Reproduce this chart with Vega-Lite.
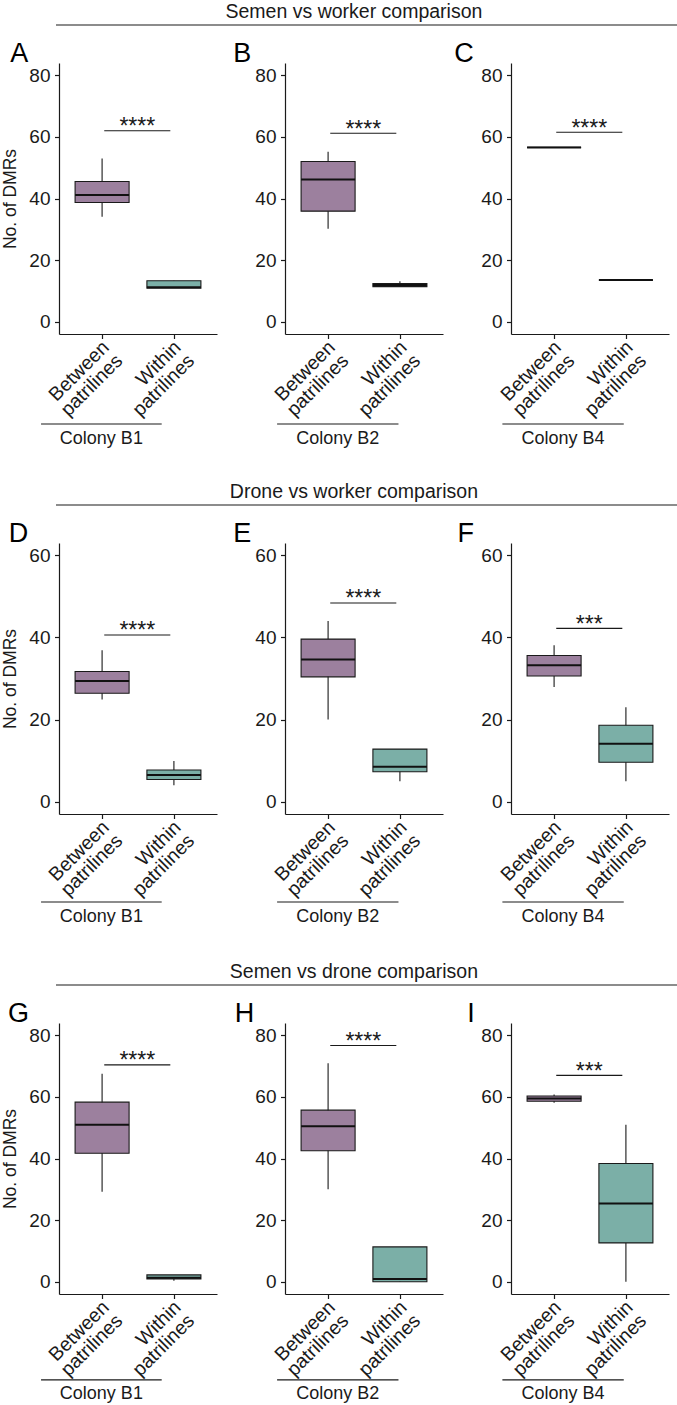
{
"$schema": "https://vega.github.io/schema/vega-lite/v6.json",
"background": "white",
"padding": {"left": 1, "top": 2, "right": 0, "bottom": 0},
"autosize": {"type": "pad"},
"datasets": {
"boxes": [
{"panel":"A","group":"Between patrilines","min":34.1,"q1":38.7,"median":41.1,"q3":45.5,"max":53.0},
{"panel":"A","group":"Within patrilines","min":10.9,"q1":10.9,"median":11.2,"q3":13.3,"max":13.3},
{"panel":"B","group":"Between patrilines","min":30.2,"q1":35.9,"median":46.2,"q3":52.0,"max":55.2},
{"panel":"B","group":"Within patrilines","min":11.3,"q1":11.4,"median":11.9,"q3":12.4,"max":13.1},
{"panel":"C","group":"Between patrilines","min":56.6,"q1":56.6,"median":56.6,"q3":56.6,"max":56.6},
{"panel":"C","group":"Within patrilines","min":13.5,"q1":13.5,"median":13.5,"q3":13.5,"max":13.5},
{"panel":"D","group":"Between patrilines","min":24.9,"q1":26.4,"median":29.4,"q3":31.7,"max":36.9},
{"panel":"D","group":"Within patrilines","min":4.0,"q1":5.4,"median":6.5,"q3":7.7,"max":9.9},
{"panel":"E","group":"Between patrilines","min":20.0,"q1":30.4,"median":34.6,"q3":39.6,"max":44.0},
{"panel":"E","group":"Within patrilines","min":5.0,"q1":7.3,"median":8.5,"q3":12.8,"max":12.8},
{"panel":"F","group":"Between patrilines","min":27.9,"q1":30.6,"median":33.2,"q3":35.6,"max":38.1},
{"panel":"F","group":"Within patrilines","min":5.0,"q1":9.6,"median":14.1,"q3":18.6,"max":23.0},
{"panel":"G","group":"Between patrilines","min":29.2,"q1":41.7,"median":51.0,"q3":58.3,"max":67.5},
{"panel":"G","group":"Within patrilines","min":0.3,"q1":0.9,"median":1.3,"q3":2.2,"max":2.2},
{"panel":"H","group":"Between patrilines","min":30.0,"q1":42.5,"median":50.5,"q3":55.7,"max":70.9},
{"panel":"H","group":"Within patrilines","min":0.0,"q1":0.0,"median":0.9,"q3":11.3,"max":11.3},
{"panel":"I","group":"Between patrilines","min":58.1,"q1":58.6,"median":59.5,"q3":60.3,"max":60.8},
{"panel":"I","group":"Within patrilines","min":0.0,"q1":12.6,"median":25.4,"q3":38.4,"max":51.0}
],
"panels": [
{"panel":"A","comparison":"Semen vs worker comparison","colony":"Colony B1","signif":"****"},
{"panel":"B","comparison":"Semen vs worker comparison","colony":"Colony B2","signif":"****"},
{"panel":"C","comparison":"Semen vs worker comparison","colony":"Colony B4","signif":"****"},
{"panel":"D","comparison":"Drone vs worker comparison","colony":"Colony B1","signif":"****"},
{"panel":"E","comparison":"Drone vs worker comparison","colony":"Colony B2","signif":"****"},
{"panel":"F","comparison":"Drone vs worker comparison","colony":"Colony B4","signif":"***"},
{"panel":"G","comparison":"Semen vs drone comparison","colony":"Colony B1","signif":"****"},
{"panel":"H","comparison":"Semen vs drone comparison","colony":"Colony B2","signif":"****"},
{"panel":"I","comparison":"Semen vs drone comparison","colony":"Colony B4","signif":"***"}
]
},
"columns": 3,
"spacing": {"row": 209, "column": 68},
"bounds": "flush",
"concat": [
{"width":158,"height":271,"resolve":{"scale":{"x":"independent"}},"layer":[
 {"data":{"name":"boxes"},"transform":[{"filter":"datum.panel === 'A'"}],
  "encoding":{"x":{"field":"group","type":"nominal","sort":["Between patrilines","Within patrilines"],"scale":{"type":"point","padding":0.6},"axis":{"title":null,"labelExpr":"split(datum.label, ' ')"}}},
  "layer":[
   {"mark":{"type":"rule","color":"#1a1a1a","strokeWidth":1.1},"encoding":{"y":{"field":"min","type":"quantitative","scale":{"domain":[-4,84],"nice":false,"zero":false},"axis":{"values":[0,20,40,60,80],"title":"No. of DMRs"}},"y2":{"field":"max"}}},
   {"mark":{"type":"bar","width":54,"stroke":"#1a1a1a","strokeWidth":1.1},"encoding":{"y":{"field":"q1","type":"quantitative","scale":{"domain":[-4,84],"nice":false,"zero":false},"axis":{"values":[0,20,40,60,80],"title":"No. of DMRs"}},"y2":{"field":"q3"},"fill":{"field":"group","type":"nominal","scale":{"domain":["Between patrilines","Within patrilines"],"range":["#9c809e","#7bafa7"]},"legend":null}}},
   {"mark":{"type":"tick","orient":"horizontal","size":54,"thickness":2,"color":"#111111","opacity":1},"encoding":{"y":{"field":"median","type":"quantitative","scale":{"domain":[-4,84],"nice":false,"zero":false},"axis":{"values":[0,20,40,60,80],"title":"No. of DMRs"}}}}
  ]},
 {"data":{"name":"panels"},"transform":[{"filter":"datum.panel === 'A'"}],
  "layer":[
   {"mark":{"type":"rule","color":"#1a1a1a","strokeWidth":1.1},"encoding":{"x":{"datum":1.03,"type":"quantitative","scale":{"domain":[0.4,2.6],"nice":false,"zero":false},"axis":null},"x2":{"datum":1.95},"y":{"datum":62,"type":"quantitative","scale":{"domain":[-4,84],"nice":false,"zero":false},"axis":{"values":[0,20,40,60,80],"title":"No. of DMRs"}}}},
   {"mark":{"type":"text","fontSize":23,"baseline":"alphabetic","dy":3.5,"color":"#1a1a1a"},"encoding":{"x":{"datum":1.49,"type":"quantitative","scale":{"domain":[0.4,2.6],"nice":false,"zero":false},"axis":null},"y":{"datum":62,"type":"quantitative","scale":{"domain":[-4,84],"nice":false,"zero":false},"axis":{"values":[0,20,40,60,80],"title":"No. of DMRs"}},"text":{"field":"signif"}}},
   {"mark":{"type":"rule","color":"#1a1a1a","strokeWidth":1.1},"encoding":{"x":{"datum":0.15,"type":"quantitative","scale":{"domain":[0.4,2.6],"nice":false,"zero":false},"axis":null},"x2":{"datum":1.83},"y":{"datum":-33.23,"type":"quantitative","scale":{"domain":[-4,84],"nice":false,"zero":false},"axis":{"values":[0,20,40,60,80],"title":"No. of DMRs"}}}},
   {"mark":{"type":"text","fontSize":18,"baseline":"middle","color":"#1a1a1a"},"encoding":{"x":{"datum":0.99,"type":"quantitative","scale":{"domain":[0.4,2.6],"nice":false,"zero":false},"axis":null},"y":{"datum":-38.1,"type":"quantitative","scale":{"domain":[-4,84],"nice":false,"zero":false},"axis":{"values":[0,20,40,60,80],"title":"No. of DMRs"}},"text":{"field":"colony"}}},
   {"mark":{"type":"text","fontSize":27,"align":"left","baseline":"alphabetic","color":"#000000"},"encoding":{"x":{"datum":-0.28,"type":"quantitative","scale":{"domain":[0.4,2.6],"nice":false,"zero":false},"axis":null},"y":{"datum":84.3,"type":"quantitative","scale":{"domain":[-4,84],"nice":false,"zero":false},"axis":{"values":[0,20,40,60,80],"title":"No. of DMRs"}},"text":{"field":"panel"}}},
   {"mark":{"type":"rule","color":"#1a1a1a","strokeWidth":1.1},"encoding":{"x":{"datum":0.358,"type":"quantitative","scale":{"domain":[0.4,2.6],"nice":false,"zero":false},"axis":null},"x2":{"datum":9.02},"y":{"datum":96.34,"type":"quantitative","scale":{"domain":[-4,84],"nice":false,"zero":false},"axis":{"values":[0,20,40,60,80],"title":"No. of DMRs"}}}}
  ]}
]},
{"width":158,"height":271,"resolve":{"scale":{"x":"independent"}},"layer":[
 {"data":{"name":"boxes"},"transform":[{"filter":"datum.panel === 'B'"}],
  "encoding":{"x":{"field":"group","type":"nominal","sort":["Between patrilines","Within patrilines"],"scale":{"type":"point","padding":0.6},"axis":{"title":null,"labelExpr":"split(datum.label, ' ')"}}},
  "layer":[
   {"mark":{"type":"rule","color":"#1a1a1a","strokeWidth":1.1},"encoding":{"y":{"field":"min","type":"quantitative","scale":{"domain":[-4,84],"nice":false,"zero":false},"axis":{"values":[0,20,40,60,80],"title":null}},"y2":{"field":"max"}}},
   {"mark":{"type":"bar","width":54,"stroke":"#1a1a1a","strokeWidth":1.1},"encoding":{"y":{"field":"q1","type":"quantitative","scale":{"domain":[-4,84],"nice":false,"zero":false},"axis":{"values":[0,20,40,60,80],"title":null}},"y2":{"field":"q3"},"fill":{"field":"group","type":"nominal","scale":{"domain":["Between patrilines","Within patrilines"],"range":["#9c809e","#7bafa7"]},"legend":null}}},
   {"mark":{"type":"tick","orient":"horizontal","size":54,"thickness":2,"color":"#111111","opacity":1},"encoding":{"y":{"field":"median","type":"quantitative","scale":{"domain":[-4,84],"nice":false,"zero":false},"axis":{"values":[0,20,40,60,80],"title":null}}}}
  ]},
 {"data":{"name":"panels"},"transform":[{"filter":"datum.panel === 'B'"}],
  "layer":[
   {"mark":{"type":"rule","color":"#1a1a1a","strokeWidth":1.1},"encoding":{"x":{"datum":1.03,"type":"quantitative","scale":{"domain":[0.4,2.6],"nice":false,"zero":false},"axis":null},"x2":{"datum":1.95},"y":{"datum":61.2,"type":"quantitative","scale":{"domain":[-4,84],"nice":false,"zero":false},"axis":{"values":[0,20,40,60,80],"title":null}}}},
   {"mark":{"type":"text","fontSize":23,"baseline":"alphabetic","dy":3.5,"color":"#1a1a1a"},"encoding":{"x":{"datum":1.49,"type":"quantitative","scale":{"domain":[0.4,2.6],"nice":false,"zero":false},"axis":null},"y":{"datum":61.2,"type":"quantitative","scale":{"domain":[-4,84],"nice":false,"zero":false},"axis":{"values":[0,20,40,60,80],"title":null}},"text":{"field":"signif"}}},
   {"mark":{"type":"rule","color":"#1a1a1a","strokeWidth":1.1},"encoding":{"x":{"datum":0.29,"type":"quantitative","scale":{"domain":[0.4,2.6],"nice":false,"zero":false},"axis":null},"x2":{"datum":1.98},"y":{"datum":-33.23,"type":"quantitative","scale":{"domain":[-4,84],"nice":false,"zero":false},"axis":{"values":[0,20,40,60,80],"title":null}}}},
   {"mark":{"type":"text","fontSize":18,"baseline":"middle","color":"#1a1a1a"},"encoding":{"x":{"datum":1.135,"type":"quantitative","scale":{"domain":[0.4,2.6],"nice":false,"zero":false},"axis":null},"y":{"datum":-38.1,"type":"quantitative","scale":{"domain":[-4,84],"nice":false,"zero":false},"axis":{"values":[0,20,40,60,80],"title":null}},"text":{"field":"colony"}}},
   {"mark":{"type":"text","fontSize":27,"align":"left","baseline":"alphabetic","color":"#000000"},"encoding":{"x":{"datum":-0.32,"type":"quantitative","scale":{"domain":[0.4,2.6],"nice":false,"zero":false},"axis":null},"y":{"datum":84.3,"type":"quantitative","scale":{"domain":[-4,84],"nice":false,"zero":false},"axis":{"values":[0,20,40,60,80],"title":null}},"text":{"field":"panel"}}},
   {"mark":{"type":"text","fontSize":19.5,"align":"center","baseline":"middle","color":"#1a1a1a"},"encoding":{"x":{"datum":1.36,"type":"quantitative","scale":{"domain":[0.4,2.6],"nice":false,"zero":false},"axis":null},"y":{"datum":100.56,"type":"quantitative","scale":{"domain":[-4,84],"nice":false,"zero":false},"axis":{"values":[0,20,40,60,80],"title":null}},"text":{"field":"comparison"}}}
  ]}
]},
{"width":158,"height":271,"resolve":{"scale":{"x":"independent"}},"layer":[
 {"data":{"name":"boxes"},"transform":[{"filter":"datum.panel === 'C'"}],
  "encoding":{"x":{"field":"group","type":"nominal","sort":["Between patrilines","Within patrilines"],"scale":{"type":"point","padding":0.6},"axis":{"title":null,"labelExpr":"split(datum.label, ' ')"}}},
  "layer":[
   {"mark":{"type":"rule","color":"#1a1a1a","strokeWidth":1.1},"encoding":{"y":{"field":"min","type":"quantitative","scale":{"domain":[-4,84],"nice":false,"zero":false},"axis":{"values":[0,20,40,60,80],"title":null}},"y2":{"field":"max"}}},
   {"mark":{"type":"bar","width":54,"stroke":"#1a1a1a","strokeWidth":1.1},"encoding":{"y":{"field":"q1","type":"quantitative","scale":{"domain":[-4,84],"nice":false,"zero":false},"axis":{"values":[0,20,40,60,80],"title":null}},"y2":{"field":"q3"},"fill":{"field":"group","type":"nominal","scale":{"domain":["Between patrilines","Within patrilines"],"range":["#9c809e","#7bafa7"]},"legend":null}}},
   {"mark":{"type":"tick","orient":"horizontal","size":54,"thickness":2,"color":"#111111","opacity":1},"encoding":{"y":{"field":"median","type":"quantitative","scale":{"domain":[-4,84],"nice":false,"zero":false},"axis":{"values":[0,20,40,60,80],"title":null}}}}
  ]},
 {"data":{"name":"panels"},"transform":[{"filter":"datum.panel === 'C'"}],
  "layer":[
   {"mark":{"type":"rule","color":"#1a1a1a","strokeWidth":1.1},"encoding":{"x":{"datum":1.03,"type":"quantitative","scale":{"domain":[0.4,2.6],"nice":false,"zero":false},"axis":null},"x2":{"datum":1.95},"y":{"datum":61.5,"type":"quantitative","scale":{"domain":[-4,84],"nice":false,"zero":false},"axis":{"values":[0,20,40,60,80],"title":null}}}},
   {"mark":{"type":"text","fontSize":23,"baseline":"alphabetic","dy":3.5,"color":"#1a1a1a"},"encoding":{"x":{"datum":1.49,"type":"quantitative","scale":{"domain":[0.4,2.6],"nice":false,"zero":false},"axis":null},"y":{"datum":61.5,"type":"quantitative","scale":{"domain":[-4,84],"nice":false,"zero":false},"axis":{"values":[0,20,40,60,80],"title":null}},"text":{"field":"signif"}}},
   {"mark":{"type":"rule","color":"#1a1a1a","strokeWidth":1.1},"encoding":{"x":{"datum":0.28,"type":"quantitative","scale":{"domain":[0.4,2.6],"nice":false,"zero":false},"axis":null},"x2":{"datum":1.97},"y":{"datum":-33.23,"type":"quantitative","scale":{"domain":[-4,84],"nice":false,"zero":false},"axis":{"values":[0,20,40,60,80],"title":null}}}},
   {"mark":{"type":"text","fontSize":18,"baseline":"middle","color":"#1a1a1a"},"encoding":{"x":{"datum":1.125,"type":"quantitative","scale":{"domain":[0.4,2.6],"nice":false,"zero":false},"axis":null},"y":{"datum":-38.1,"type":"quantitative","scale":{"domain":[-4,84],"nice":false,"zero":false},"axis":{"values":[0,20,40,60,80],"title":null}},"text":{"field":"colony"}}},
   {"mark":{"type":"text","fontSize":27,"align":"left","baseline":"alphabetic","color":"#000000"},"encoding":{"x":{"datum":-0.39,"type":"quantitative","scale":{"domain":[0.4,2.6],"nice":false,"zero":false},"axis":null},"y":{"datum":84.3,"type":"quantitative","scale":{"domain":[-4,84],"nice":false,"zero":false},"axis":{"values":[0,20,40,60,80],"title":null}},"text":{"field":"panel"}}}
  ]}
]},
{"width":158,"height":271,"resolve":{"scale":{"x":"independent"}},"layer":[
 {"data":{"name":"boxes"},"transform":[{"filter":"datum.panel === 'D'"}],
  "encoding":{"x":{"field":"group","type":"nominal","sort":["Between patrilines","Within patrilines"],"scale":{"type":"point","padding":0.6},"axis":{"title":null,"labelExpr":"split(datum.label, ' ')"}}},
  "layer":[
   {"mark":{"type":"rule","color":"#1a1a1a","strokeWidth":1.1},"encoding":{"y":{"field":"min","type":"quantitative","scale":{"domain":[-3,63],"nice":false,"zero":false},"axis":{"values":[0,20,40,60],"title":"No. of DMRs"}},"y2":{"field":"max"}}},
   {"mark":{"type":"bar","width":54,"stroke":"#1a1a1a","strokeWidth":1.1},"encoding":{"y":{"field":"q1","type":"quantitative","scale":{"domain":[-3,63],"nice":false,"zero":false},"axis":{"values":[0,20,40,60],"title":"No. of DMRs"}},"y2":{"field":"q3"},"fill":{"field":"group","type":"nominal","scale":{"domain":["Between patrilines","Within patrilines"],"range":["#9c809e","#7bafa7"]},"legend":null}}},
   {"mark":{"type":"tick","orient":"horizontal","size":54,"thickness":2,"color":"#111111","opacity":1},"encoding":{"y":{"field":"median","type":"quantitative","scale":{"domain":[-3,63],"nice":false,"zero":false},"axis":{"values":[0,20,40,60],"title":"No. of DMRs"}}}}
  ]},
 {"data":{"name":"panels"},"transform":[{"filter":"datum.panel === 'D'"}],
  "layer":[
   {"mark":{"type":"rule","color":"#1a1a1a","strokeWidth":1.1},"encoding":{"x":{"datum":1.03,"type":"quantitative","scale":{"domain":[0.4,2.6],"nice":false,"zero":false},"axis":null},"x2":{"datum":1.95},"y":{"datum":40.6,"type":"quantitative","scale":{"domain":[-3,63],"nice":false,"zero":false},"axis":{"values":[0,20,40,60],"title":"No. of DMRs"}}}},
   {"mark":{"type":"text","fontSize":23,"baseline":"alphabetic","dy":3.5,"color":"#1a1a1a"},"encoding":{"x":{"datum":1.49,"type":"quantitative","scale":{"domain":[0.4,2.6],"nice":false,"zero":false},"axis":null},"y":{"datum":40.6,"type":"quantitative","scale":{"domain":[-3,63],"nice":false,"zero":false},"axis":{"values":[0,20,40,60],"title":"No. of DMRs"}},"text":{"field":"signif"}}},
   {"mark":{"type":"rule","color":"#1a1a1a","strokeWidth":1.1},"encoding":{"x":{"datum":0.15,"type":"quantitative","scale":{"domain":[0.4,2.6],"nice":false,"zero":false},"axis":null},"x2":{"datum":1.83},"y":{"datum":-24.43,"type":"quantitative","scale":{"domain":[-3,63],"nice":false,"zero":false},"axis":{"values":[0,20,40,60],"title":"No. of DMRs"}}}},
   {"mark":{"type":"text","fontSize":18,"baseline":"middle","color":"#1a1a1a"},"encoding":{"x":{"datum":0.99,"type":"quantitative","scale":{"domain":[0.4,2.6],"nice":false,"zero":false},"axis":null},"y":{"datum":-28.09,"type":"quantitative","scale":{"domain":[-3,63],"nice":false,"zero":false},"axis":{"values":[0,20,40,60],"title":"No. of DMRs"}},"text":{"field":"colony"}}},
   {"mark":{"type":"text","fontSize":27,"align":"left","baseline":"alphabetic","color":"#000000"},"encoding":{"x":{"datum":-0.30,"type":"quantitative","scale":{"domain":[0.4,2.6],"nice":false,"zero":false},"axis":null},"y":{"datum":63.25,"type":"quantitative","scale":{"domain":[-3,63],"nice":false,"zero":false},"axis":{"values":[0,20,40,60],"title":"No. of DMRs"}},"text":{"field":"panel"}}},
   {"mark":{"type":"rule","color":"#1a1a1a","strokeWidth":1.1},"encoding":{"x":{"datum":0.358,"type":"quantitative","scale":{"domain":[0.4,2.6],"nice":false,"zero":false},"axis":null},"x2":{"datum":9.02},"y":{"datum":72.25,"type":"quantitative","scale":{"domain":[-3,63],"nice":false,"zero":false},"axis":{"values":[0,20,40,60],"title":"No. of DMRs"}}}}
  ]}
]},
{"width":158,"height":271,"resolve":{"scale":{"x":"independent"}},"layer":[
 {"data":{"name":"boxes"},"transform":[{"filter":"datum.panel === 'E'"}],
  "encoding":{"x":{"field":"group","type":"nominal","sort":["Between patrilines","Within patrilines"],"scale":{"type":"point","padding":0.6},"axis":{"title":null,"labelExpr":"split(datum.label, ' ')"}}},
  "layer":[
   {"mark":{"type":"rule","color":"#1a1a1a","strokeWidth":1.1},"encoding":{"y":{"field":"min","type":"quantitative","scale":{"domain":[-3,63],"nice":false,"zero":false},"axis":{"values":[0,20,40,60],"title":null}},"y2":{"field":"max"}}},
   {"mark":{"type":"bar","width":54,"stroke":"#1a1a1a","strokeWidth":1.1},"encoding":{"y":{"field":"q1","type":"quantitative","scale":{"domain":[-3,63],"nice":false,"zero":false},"axis":{"values":[0,20,40,60],"title":null}},"y2":{"field":"q3"},"fill":{"field":"group","type":"nominal","scale":{"domain":["Between patrilines","Within patrilines"],"range":["#9c809e","#7bafa7"]},"legend":null}}},
   {"mark":{"type":"tick","orient":"horizontal","size":54,"thickness":2,"color":"#111111","opacity":1},"encoding":{"y":{"field":"median","type":"quantitative","scale":{"domain":[-3,63],"nice":false,"zero":false},"axis":{"values":[0,20,40,60],"title":null}}}}
  ]},
 {"data":{"name":"panels"},"transform":[{"filter":"datum.panel === 'E'"}],
  "layer":[
   {"mark":{"type":"rule","color":"#1a1a1a","strokeWidth":1.1},"encoding":{"x":{"datum":1.03,"type":"quantitative","scale":{"domain":[0.4,2.6],"nice":false,"zero":false},"axis":null},"x2":{"datum":1.95},"y":{"datum":48.4,"type":"quantitative","scale":{"domain":[-3,63],"nice":false,"zero":false},"axis":{"values":[0,20,40,60],"title":null}}}},
   {"mark":{"type":"text","fontSize":23,"baseline":"alphabetic","dy":3.5,"color":"#1a1a1a"},"encoding":{"x":{"datum":1.49,"type":"quantitative","scale":{"domain":[0.4,2.6],"nice":false,"zero":false},"axis":null},"y":{"datum":48.4,"type":"quantitative","scale":{"domain":[-3,63],"nice":false,"zero":false},"axis":{"values":[0,20,40,60],"title":null}},"text":{"field":"signif"}}},
   {"mark":{"type":"rule","color":"#1a1a1a","strokeWidth":1.1},"encoding":{"x":{"datum":0.29,"type":"quantitative","scale":{"domain":[0.4,2.6],"nice":false,"zero":false},"axis":null},"x2":{"datum":1.98},"y":{"datum":-24.43,"type":"quantitative","scale":{"domain":[-3,63],"nice":false,"zero":false},"axis":{"values":[0,20,40,60],"title":null}}}},
   {"mark":{"type":"text","fontSize":18,"baseline":"middle","color":"#1a1a1a"},"encoding":{"x":{"datum":1.135,"type":"quantitative","scale":{"domain":[0.4,2.6],"nice":false,"zero":false},"axis":null},"y":{"datum":-28.09,"type":"quantitative","scale":{"domain":[-3,63],"nice":false,"zero":false},"axis":{"values":[0,20,40,60],"title":null}},"text":{"field":"colony"}}},
   {"mark":{"type":"text","fontSize":27,"align":"left","baseline":"alphabetic","color":"#000000"},"encoding":{"x":{"datum":-0.32,"type":"quantitative","scale":{"domain":[0.4,2.6],"nice":false,"zero":false},"axis":null},"y":{"datum":63.25,"type":"quantitative","scale":{"domain":[-3,63],"nice":false,"zero":false},"axis":{"values":[0,20,40,60],"title":null}},"text":{"field":"panel"}}},
   {"mark":{"type":"text","fontSize":19.5,"align":"center","baseline":"middle","color":"#1a1a1a"},"encoding":{"x":{"datum":1.36,"type":"quantitative","scale":{"domain":[0.4,2.6],"nice":false,"zero":false},"axis":null},"y":{"datum":75.42,"type":"quantitative","scale":{"domain":[-3,63],"nice":false,"zero":false},"axis":{"values":[0,20,40,60],"title":null}},"text":{"field":"comparison"}}}
  ]}
]},
{"width":158,"height":271,"resolve":{"scale":{"x":"independent"}},"layer":[
 {"data":{"name":"boxes"},"transform":[{"filter":"datum.panel === 'F'"}],
  "encoding":{"x":{"field":"group","type":"nominal","sort":["Between patrilines","Within patrilines"],"scale":{"type":"point","padding":0.6},"axis":{"title":null,"labelExpr":"split(datum.label, ' ')"}}},
  "layer":[
   {"mark":{"type":"rule","color":"#1a1a1a","strokeWidth":1.1},"encoding":{"y":{"field":"min","type":"quantitative","scale":{"domain":[-3,63],"nice":false,"zero":false},"axis":{"values":[0,20,40,60],"title":null}},"y2":{"field":"max"}}},
   {"mark":{"type":"bar","width":54,"stroke":"#1a1a1a","strokeWidth":1.1},"encoding":{"y":{"field":"q1","type":"quantitative","scale":{"domain":[-3,63],"nice":false,"zero":false},"axis":{"values":[0,20,40,60],"title":null}},"y2":{"field":"q3"},"fill":{"field":"group","type":"nominal","scale":{"domain":["Between patrilines","Within patrilines"],"range":["#9c809e","#7bafa7"]},"legend":null}}},
   {"mark":{"type":"tick","orient":"horizontal","size":54,"thickness":2,"color":"#111111","opacity":1},"encoding":{"y":{"field":"median","type":"quantitative","scale":{"domain":[-3,63],"nice":false,"zero":false},"axis":{"values":[0,20,40,60],"title":null}}}}
  ]},
 {"data":{"name":"panels"},"transform":[{"filter":"datum.panel === 'F'"}],
  "layer":[
   {"mark":{"type":"rule","color":"#1a1a1a","strokeWidth":1.1},"encoding":{"x":{"datum":1.03,"type":"quantitative","scale":{"domain":[0.4,2.6],"nice":false,"zero":false},"axis":null},"x2":{"datum":1.95},"y":{"datum":42.2,"type":"quantitative","scale":{"domain":[-3,63],"nice":false,"zero":false},"axis":{"values":[0,20,40,60],"title":null}}}},
   {"mark":{"type":"text","fontSize":23,"baseline":"alphabetic","dy":3.5,"color":"#1a1a1a"},"encoding":{"x":{"datum":1.49,"type":"quantitative","scale":{"domain":[0.4,2.6],"nice":false,"zero":false},"axis":null},"y":{"datum":42.2,"type":"quantitative","scale":{"domain":[-3,63],"nice":false,"zero":false},"axis":{"values":[0,20,40,60],"title":null}},"text":{"field":"signif"}}},
   {"mark":{"type":"rule","color":"#1a1a1a","strokeWidth":1.1},"encoding":{"x":{"datum":0.28,"type":"quantitative","scale":{"domain":[0.4,2.6],"nice":false,"zero":false},"axis":null},"x2":{"datum":1.97},"y":{"datum":-24.43,"type":"quantitative","scale":{"domain":[-3,63],"nice":false,"zero":false},"axis":{"values":[0,20,40,60],"title":null}}}},
   {"mark":{"type":"text","fontSize":18,"baseline":"middle","color":"#1a1a1a"},"encoding":{"x":{"datum":1.125,"type":"quantitative","scale":{"domain":[0.4,2.6],"nice":false,"zero":false},"axis":null},"y":{"datum":-28.09,"type":"quantitative","scale":{"domain":[-3,63],"nice":false,"zero":false},"axis":{"values":[0,20,40,60],"title":null}},"text":{"field":"colony"}}},
   {"mark":{"type":"text","fontSize":27,"align":"left","baseline":"alphabetic","color":"#000000"},"encoding":{"x":{"datum":-0.345,"type":"quantitative","scale":{"domain":[0.4,2.6],"nice":false,"zero":false},"axis":null},"y":{"datum":63.25,"type":"quantitative","scale":{"domain":[-3,63],"nice":false,"zero":false},"axis":{"values":[0,20,40,60],"title":null}},"text":{"field":"panel"}}}
  ]}
]},
{"width":158,"height":271,"resolve":{"scale":{"x":"independent"}},"layer":[
 {"data":{"name":"boxes"},"transform":[{"filter":"datum.panel === 'G'"}],
  "encoding":{"x":{"field":"group","type":"nominal","sort":["Between patrilines","Within patrilines"],"scale":{"type":"point","padding":0.6},"axis":{"title":null,"labelExpr":"split(datum.label, ' ')"}}},
  "layer":[
   {"mark":{"type":"rule","color":"#1a1a1a","strokeWidth":1.1},"encoding":{"y":{"field":"min","type":"quantitative","scale":{"domain":[-4,84],"nice":false,"zero":false},"axis":{"values":[0,20,40,60,80],"title":"No. of DMRs"}},"y2":{"field":"max"}}},
   {"mark":{"type":"bar","width":54,"stroke":"#1a1a1a","strokeWidth":1.1},"encoding":{"y":{"field":"q1","type":"quantitative","scale":{"domain":[-4,84],"nice":false,"zero":false},"axis":{"values":[0,20,40,60,80],"title":"No. of DMRs"}},"y2":{"field":"q3"},"fill":{"field":"group","type":"nominal","scale":{"domain":["Between patrilines","Within patrilines"],"range":["#9c809e","#7bafa7"]},"legend":null}}},
   {"mark":{"type":"tick","orient":"horizontal","size":54,"thickness":2,"color":"#111111","opacity":1},"encoding":{"y":{"field":"median","type":"quantitative","scale":{"domain":[-4,84],"nice":false,"zero":false},"axis":{"values":[0,20,40,60,80],"title":"No. of DMRs"}}}}
  ]},
 {"data":{"name":"panels"},"transform":[{"filter":"datum.panel === 'G'"}],
  "layer":[
   {"mark":{"type":"rule","color":"#1a1a1a","strokeWidth":1.1},"encoding":{"x":{"datum":1.03,"type":"quantitative","scale":{"domain":[0.4,2.6],"nice":false,"zero":false},"axis":null},"x2":{"datum":1.95},"y":{"datum":70.4,"type":"quantitative","scale":{"domain":[-4,84],"nice":false,"zero":false},"axis":{"values":[0,20,40,60,80],"title":"No. of DMRs"}}}},
   {"mark":{"type":"text","fontSize":23,"baseline":"alphabetic","dy":3.5,"color":"#1a1a1a"},"encoding":{"x":{"datum":1.49,"type":"quantitative","scale":{"domain":[0.4,2.6],"nice":false,"zero":false},"axis":null},"y":{"datum":70.4,"type":"quantitative","scale":{"domain":[-4,84],"nice":false,"zero":false},"axis":{"values":[0,20,40,60,80],"title":"No. of DMRs"}},"text":{"field":"signif"}}},
   {"mark":{"type":"rule","color":"#1a1a1a","strokeWidth":1.1},"encoding":{"x":{"datum":0.15,"type":"quantitative","scale":{"domain":[0.4,2.6],"nice":false,"zero":false},"axis":null},"x2":{"datum":1.83},"y":{"datum":-31.9,"type":"quantitative","scale":{"domain":[-4,84],"nice":false,"zero":false},"axis":{"values":[0,20,40,60,80],"title":"No. of DMRs"}}}},
   {"mark":{"type":"text","fontSize":18,"baseline":"middle","color":"#1a1a1a"},"encoding":{"x":{"datum":0.99,"type":"quantitative","scale":{"domain":[0.4,2.6],"nice":false,"zero":false},"axis":null},"y":{"datum":-36.6,"type":"quantitative","scale":{"domain":[-4,84],"nice":false,"zero":false},"axis":{"values":[0,20,40,60,80],"title":"No. of DMRs"}},"text":{"field":"colony"}}},
   {"mark":{"type":"text","fontSize":27,"align":"left","baseline":"alphabetic","color":"#000000"},"encoding":{"x":{"datum":-0.31,"type":"quantitative","scale":{"domain":[0.4,2.6],"nice":false,"zero":false},"axis":null},"y":{"datum":84.3,"type":"quantitative","scale":{"domain":[-4,84],"nice":false,"zero":false},"axis":{"values":[0,20,40,60,80],"title":"No. of DMRs"}},"text":{"field":"panel"}}},
   {"mark":{"type":"rule","color":"#1a1a1a","strokeWidth":1.1},"encoding":{"x":{"datum":0.358,"type":"quantitative","scale":{"domain":[0.4,2.6],"nice":false,"zero":false},"axis":null},"x2":{"datum":9.02},"y":{"datum":96.34,"type":"quantitative","scale":{"domain":[-4,84],"nice":false,"zero":false},"axis":{"values":[0,20,40,60,80],"title":"No. of DMRs"}}}}
  ]}
]},
{"width":158,"height":271,"resolve":{"scale":{"x":"independent"}},"layer":[
 {"data":{"name":"boxes"},"transform":[{"filter":"datum.panel === 'H'"}],
  "encoding":{"x":{"field":"group","type":"nominal","sort":["Between patrilines","Within patrilines"],"scale":{"type":"point","padding":0.6},"axis":{"title":null,"labelExpr":"split(datum.label, ' ')"}}},
  "layer":[
   {"mark":{"type":"rule","color":"#1a1a1a","strokeWidth":1.1},"encoding":{"y":{"field":"min","type":"quantitative","scale":{"domain":[-4,84],"nice":false,"zero":false},"axis":{"values":[0,20,40,60,80],"title":null}},"y2":{"field":"max"}}},
   {"mark":{"type":"bar","width":54,"stroke":"#1a1a1a","strokeWidth":1.1},"encoding":{"y":{"field":"q1","type":"quantitative","scale":{"domain":[-4,84],"nice":false,"zero":false},"axis":{"values":[0,20,40,60,80],"title":null}},"y2":{"field":"q3"},"fill":{"field":"group","type":"nominal","scale":{"domain":["Between patrilines","Within patrilines"],"range":["#9c809e","#7bafa7"]},"legend":null}}},
   {"mark":{"type":"tick","orient":"horizontal","size":54,"thickness":2,"color":"#111111","opacity":1},"encoding":{"y":{"field":"median","type":"quantitative","scale":{"domain":[-4,84],"nice":false,"zero":false},"axis":{"values":[0,20,40,60,80],"title":null}}}}
  ]},
 {"data":{"name":"panels"},"transform":[{"filter":"datum.panel === 'H'"}],
  "layer":[
   {"mark":{"type":"rule","color":"#1a1a1a","strokeWidth":1.1},"encoding":{"x":{"datum":1.03,"type":"quantitative","scale":{"domain":[0.4,2.6],"nice":false,"zero":false},"axis":null},"x2":{"datum":1.95},"y":{"datum":76.7,"type":"quantitative","scale":{"domain":[-4,84],"nice":false,"zero":false},"axis":{"values":[0,20,40,60,80],"title":null}}}},
   {"mark":{"type":"text","fontSize":23,"baseline":"alphabetic","dy":3.5,"color":"#1a1a1a"},"encoding":{"x":{"datum":1.49,"type":"quantitative","scale":{"domain":[0.4,2.6],"nice":false,"zero":false},"axis":null},"y":{"datum":76.7,"type":"quantitative","scale":{"domain":[-4,84],"nice":false,"zero":false},"axis":{"values":[0,20,40,60,80],"title":null}},"text":{"field":"signif"}}},
   {"mark":{"type":"rule","color":"#1a1a1a","strokeWidth":1.1},"encoding":{"x":{"datum":0.29,"type":"quantitative","scale":{"domain":[0.4,2.6],"nice":false,"zero":false},"axis":null},"x2":{"datum":1.98},"y":{"datum":-31.9,"type":"quantitative","scale":{"domain":[-4,84],"nice":false,"zero":false},"axis":{"values":[0,20,40,60,80],"title":null}}}},
   {"mark":{"type":"text","fontSize":18,"baseline":"middle","color":"#1a1a1a"},"encoding":{"x":{"datum":1.135,"type":"quantitative","scale":{"domain":[0.4,2.6],"nice":false,"zero":false},"axis":null},"y":{"datum":-36.6,"type":"quantitative","scale":{"domain":[-4,84],"nice":false,"zero":false},"axis":{"values":[0,20,40,60,80],"title":null}},"text":{"field":"colony"}}},
   {"mark":{"type":"text","fontSize":27,"align":"left","baseline":"alphabetic","color":"#000000"},"encoding":{"x":{"datum":-0.30,"type":"quantitative","scale":{"domain":[0.4,2.6],"nice":false,"zero":false},"axis":null},"y":{"datum":84.3,"type":"quantitative","scale":{"domain":[-4,84],"nice":false,"zero":false},"axis":{"values":[0,20,40,60,80],"title":null}},"text":{"field":"panel"}}},
   {"mark":{"type":"text","fontSize":19.5,"align":"center","baseline":"middle","color":"#1a1a1a"},"encoding":{"x":{"datum":1.36,"type":"quantitative","scale":{"domain":[0.4,2.6],"nice":false,"zero":false},"axis":null},"y":{"datum":100.56,"type":"quantitative","scale":{"domain":[-4,84],"nice":false,"zero":false},"axis":{"values":[0,20,40,60,80],"title":null}},"text":{"field":"comparison"}}}
  ]}
]},
{"width":158,"height":271,"resolve":{"scale":{"x":"independent"}},"layer":[
 {"data":{"name":"boxes"},"transform":[{"filter":"datum.panel === 'I'"}],
  "encoding":{"x":{"field":"group","type":"nominal","sort":["Between patrilines","Within patrilines"],"scale":{"type":"point","padding":0.6},"axis":{"title":null,"labelExpr":"split(datum.label, ' ')"}}},
  "layer":[
   {"mark":{"type":"rule","color":"#1a1a1a","strokeWidth":1.1},"encoding":{"y":{"field":"min","type":"quantitative","scale":{"domain":[-4,84],"nice":false,"zero":false},"axis":{"values":[0,20,40,60,80],"title":null}},"y2":{"field":"max"}}},
   {"mark":{"type":"bar","width":54,"stroke":"#1a1a1a","strokeWidth":1.1},"encoding":{"y":{"field":"q1","type":"quantitative","scale":{"domain":[-4,84],"nice":false,"zero":false},"axis":{"values":[0,20,40,60,80],"title":null}},"y2":{"field":"q3"},"fill":{"field":"group","type":"nominal","scale":{"domain":["Between patrilines","Within patrilines"],"range":["#9c809e","#7bafa7"]},"legend":null}}},
   {"mark":{"type":"tick","orient":"horizontal","size":54,"thickness":2,"color":"#111111","opacity":1},"encoding":{"y":{"field":"median","type":"quantitative","scale":{"domain":[-4,84],"nice":false,"zero":false},"axis":{"values":[0,20,40,60,80],"title":null}}}}
  ]},
 {"data":{"name":"panels"},"transform":[{"filter":"datum.panel === 'I'"}],
  "layer":[
   {"mark":{"type":"rule","color":"#1a1a1a","strokeWidth":1.1},"encoding":{"x":{"datum":1.03,"type":"quantitative","scale":{"domain":[0.4,2.6],"nice":false,"zero":false},"axis":null},"x2":{"datum":1.95},"y":{"datum":67.0,"type":"quantitative","scale":{"domain":[-4,84],"nice":false,"zero":false},"axis":{"values":[0,20,40,60,80],"title":null}}}},
   {"mark":{"type":"text","fontSize":23,"baseline":"alphabetic","dy":3.5,"color":"#1a1a1a"},"encoding":{"x":{"datum":1.49,"type":"quantitative","scale":{"domain":[0.4,2.6],"nice":false,"zero":false},"axis":null},"y":{"datum":67.0,"type":"quantitative","scale":{"domain":[-4,84],"nice":false,"zero":false},"axis":{"values":[0,20,40,60,80],"title":null}},"text":{"field":"signif"}}},
   {"mark":{"type":"rule","color":"#1a1a1a","strokeWidth":1.1},"encoding":{"x":{"datum":0.28,"type":"quantitative","scale":{"domain":[0.4,2.6],"nice":false,"zero":false},"axis":null},"x2":{"datum":1.97},"y":{"datum":-31.9,"type":"quantitative","scale":{"domain":[-4,84],"nice":false,"zero":false},"axis":{"values":[0,20,40,60,80],"title":null}}}},
   {"mark":{"type":"text","fontSize":18,"baseline":"middle","color":"#1a1a1a"},"encoding":{"x":{"datum":1.125,"type":"quantitative","scale":{"domain":[0.4,2.6],"nice":false,"zero":false},"axis":null},"y":{"datum":-36.6,"type":"quantitative","scale":{"domain":[-4,84],"nice":false,"zero":false},"axis":{"values":[0,20,40,60,80],"title":null}},"text":{"field":"colony"}}},
   {"mark":{"type":"text","fontSize":27,"align":"left","baseline":"alphabetic","color":"#000000"},"encoding":{"x":{"datum":-0.21,"type":"quantitative","scale":{"domain":[0.4,2.6],"nice":false,"zero":false},"axis":null},"y":{"datum":84.3,"type":"quantitative","scale":{"domain":[-4,84],"nice":false,"zero":false},"axis":{"values":[0,20,40,60,80],"title":null}},"text":{"field":"panel"}}}
  ]}
]}
],
"config": {
"font": "Liberation Sans",
"view": {"stroke": null},
"axis": {"grid": false, "domainColor": "#1a1a1a", "domainWidth": 1.2, "tickColor": "#1a1a1a", "tickWidth": 1.2, "tickSize": 4.5, "labelColor": "#1a1a1a", "labelFontSize": 19, "labelFont": "Liberation Sans", "titleFont": "Liberation Sans", "titleFontSize": 17.5, "titleFontWeight": "normal", "titleColor": "#1a1a1a"},
"axisX": {"labelAngle": -45, "labelAlign": "right", "labelBaseline": "top", "labelPadding": -1, "labelOffset": -3, "labelLineHeight": 19, "labelFontSize": 19.5},
"axisY": {"labelPadding": 4.5, "titlePadding": 9}
}
}
